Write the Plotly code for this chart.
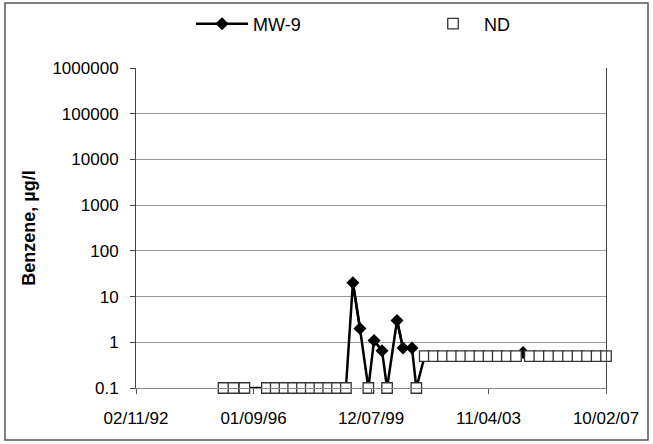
import plotly.graph_objects as go

# ---- data ----
sample_dates = [
    "1995-01-10", "1995-05-10", "1995-09-20",
    "1996-06-20", "1996-10-05", "1997-01-20", "1997-05-05", "1997-08-20",
    "1997-12-05", "1998-03-20", "1998-07-05", "1998-10-20", "1999-02-05",
    "1999-05-01", "1999-07-26", "1999-11-05", "2000-01-13", "2000-04-19",
    "2000-06-19", "2000-10-18", "2000-12-30", "2001-04-18", "2001-06-10",
    "2001-09-20", "2002-01-08", "2002-04-29", "2002-08-18", "2002-12-07",
    "2003-03-28", "2003-07-17", "2003-11-05", "2004-02-24", "2004-06-14",
    "2004-10-03",
    "2004-12-28",
    "2005-03-20", "2005-07-14", "2005-11-07", "2006-03-03", "2006-06-27",
    "2006-10-21", "2007-02-14", "2007-06-10", "2007-10-02",
]
benzene = [
    0.1, 0.1, 0.1,
    0.1, 0.1, 0.1, 0.1, 0.1, 0.1, 0.1, 0.1, 0.1, 0.1,
    20, 2, 0.1, 1.1, 0.65, 0.1, 3, 0.75, 0.75, 0.1,
    0.5, 0.5, 0.5, 0.5, 0.5, 0.5, 0.5, 0.5, 0.5, 0.5, 0.5,
    0.6,
    0.5, 0.5, 0.5, 0.5, 0.5, 0.5, 0.5, 0.5, 0.5,
]
is_nd = [
    1, 1, 1,
    1, 1, 1, 1, 1, 1, 1, 1, 1, 1,
    0, 0, 1, 0, 0, 1, 0, 0, 0, 1,
    1, 1, 1, 1, 1, 1, 1, 1, 1, 1, 1,
    0,
    1, 1, 1, 1, 1, 1, 1, 1, 1,
]
x_tick_dates = ["1992-02-11", "1996-01-09", "1999-12-07", "2003-11-04", "2007-10-02"]
x_tick_labels = ["02/11/92", "01/09/96", "12/07/99", "11/04/03", "10/02/07"]
y_tick_vals = [0.1, 1, 10, 100, 1000, 10000, 100000, 1000000]
y_tick_labels = ["0.1", "1", "10", "100", "1000", "10000", "100000", "1000000"]

detect_vals = [v if not n else None for v, n in zip(benzene, is_nd)]
nd_vals = [v if n else None for v, n in zip(benzene, is_nd)]

FONT = "Liberation Sans, Arial, sans-serif"

fig = go.Figure()
# full MW-9 line (through ND values)
fig.add_trace(go.Scatter(
    x=sample_dates, y=benzene, mode="lines",
    line=dict(color="black", width=2.5), showlegend=False, hoverinfo="skip",
))
# MW-9 detected values with diamonds
fig.add_trace(go.Scatter(
    x=sample_dates, y=detect_vals, mode="lines+markers", name="MW-9",
    connectgaps=False,
    line=dict(color="black", width=2.5),
    marker=dict(symbol="diamond", size=10, color="black"),
    cliponaxis=False,
))
# ND markers
fig.add_trace(go.Scatter(
    x=sample_dates, y=nd_vals, mode="markers", name="ND",
    marker=dict(symbol="square", size=10.5, color="white",
                line=dict(color="#333333", width=1.3)),
    cliponaxis=False,
))

L, R, T, B = 136, 47, 68, 56
W, H = 653, 444
pw, ph = W - L - R, H - T - B

def px_x(px):
    return (px - L) / pw

def px_y(py):
    return (H - B - py) / ph

fig.update_layout(
    width=W, height=H,
    margin=dict(l=L, r=R, t=T, b=B, autoexpand=False),
    paper_bgcolor="white", plot_bgcolor="white",
    font=dict(family=FONT, size=17, color="black"),
    legend=dict(orientation="h", x=px_x(191), y=px_y(24), xanchor="left",
                yanchor="middle", font=dict(size=18), itemwidth=52,
                entrywidth=164, bgcolor="rgba(0,0,0,0)"),
    shapes=[dict(type="rect", xref="paper", yref="paper",
                 x0=px_x(5), x1=px_x(648), y0=px_y(440), y1=px_y(3),
                 line=dict(color="#555555", width=1.5), layer="below")],
)
fig.update_xaxes(
    type="date", range=[x_tick_dates[0], x_tick_dates[-1]],
    tickvals=x_tick_dates, ticktext=x_tick_labels,
    showgrid=False, showline=True, linecolor="#888888", linewidth=1,
    ticks="outside", ticklen=5, tickcolor="#555555",
    ticklabelstandoff=10, tickfont=dict(size=17),
    zeroline=False,
)
fig.update_yaxes(
    type="log", range=[-1, 6],
    tickvals=y_tick_vals, ticktext=y_tick_labels,
    showgrid=True, gridcolor="#999999", gridwidth=1,
    showline=True, linecolor="#444444", linewidth=1, mirror=True,
    ticks="outside", ticklen=5, tickcolor="#444444",
    ticklabelstandoff=8, tickfont=dict(size=17),
    title=dict(text="<b>Benzene, µg/l</b>", font=dict(size=18), standoff=12),
    zeroline=False,
)

fig.write_html(
    "out.html",
    config={"displayModeBar": False},
    post_script="document.body.style.margin='0';document.body.style.overflow='hidden';",
)
